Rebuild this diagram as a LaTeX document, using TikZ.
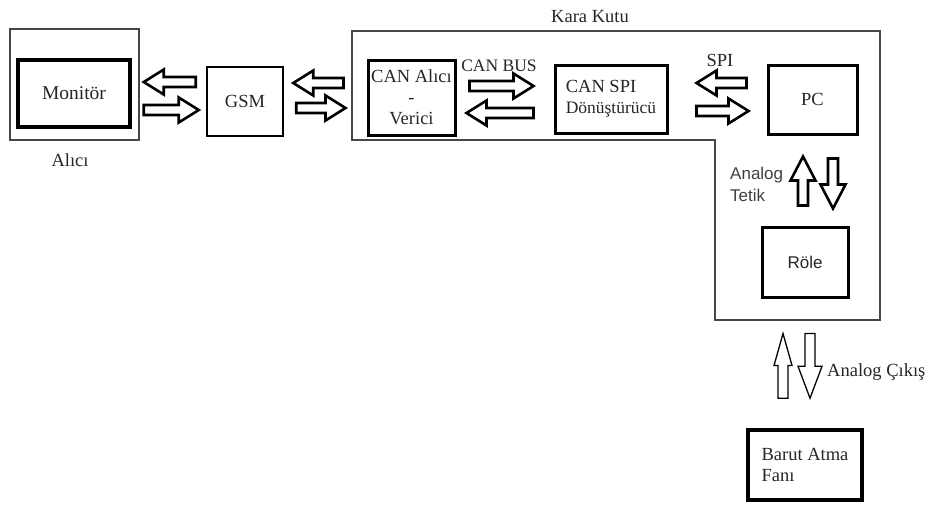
\documentclass[tikz,border=0pt]{standalone}
\usepackage{fontspec}
\setmainfont{Liberation Serif}
\newfontfamily\arialf{Liberation Sans}
\usetikzlibrary{calc}
\tikzset{
  blk sw/.store in=\blksw, blk hw/.store in=\blkhw, blk hl/.store in=\blkhl,
  blk sw=5pt, blk hw=12.5pt, blk hl=20pt,
  blk/.style={draw=black, line width=2.6pt, line join=miter, fill=white,
    to path={let \p1=(\tikztostart), \p2=(\tikztotarget), \p3=($(\p2)!\blkhl!(\p1)$) in
      ($(\p1)!\blksw!90:(\p2)$) -- ($(\p3)!\blksw!-90:(\p1)$) -- ($(\p3)!\blkhw!-90:(\p1)$)
      -- (\p2) -- ($(\p3)!\blkhw!90:(\p1)$) -- ($(\p3)!\blksw!90:(\p1)$)
      -- ($(\p1)!\blksw!-90:(\p2)$) -- cycle}},
  thinblk/.style={blk, line width=1.3pt, blk sw=5pt, blk hw=10pt, blk hl=32pt},
  frame/.style={draw=gray!55!black, line width=1.5pt},
  bx/.style={draw=black, line width=3pt, inner sep=0pt, text=black!85,
    font=\fontsize{18.5}{21}\selectfont},
  txt/.style={inner sep=0pt, text=black!85, font=\fontsize{18.5}{21}\selectfont},
  sans/.style={inner sep=0pt, text=black!75, font=\arialf\fontsize{17}{22}\selectfont},
}
\begin{document}
\begin{tikzpicture}[x=1pt,y=-1pt]
\useasboundingbox[fill=white] (0,0) rectangle (931,504);

% frames
\node[frame, inner sep=0pt, minimum width=129pt, minimum height=111pt] (alicifr) at (74.5,84.5) {};
\draw[frame] (352,31) -- (880,31) -- (880,320) -- (715,320) -- (715,140) -- (352,140) -- cycle;

% boxes
\node[bx, line width=3.5pt, minimum width=112pt, minimum height=67pt, font=\fontsize{19.5}{21}\selectfont] (monitor) at (74,93.5) {Monitör};
\node[bx, line width=2.5pt, minimum width=76pt, minimum height=69pt] (gsm) at (245,101.5) {GSM};
\node[bx, minimum width=87pt, minimum height=75pt, align=center] (canalici) at (411.5,97.5) {CAN Alıcı\\-\\Verici};
\node[bx, minimum width=112pt, minimum height=68pt, align=left] (canspi) at (611,99) {CAN SPI\\{\fontsize{17.5}{19}\selectfont Dönüştürücü}};
\node[bx, minimum width=89pt, minimum height=69pt] (pc) at (812.5,99.5) {PC};
\node[bx, minimum width=86pt, minimum height=70pt, font=\arialf\fontsize{17}{18}\selectfont] (role) at (805,262) {\raisebox{-4pt}{Röle}};
\node[bx, line width=3.5pt, minimum width=114pt, minimum height=70pt, align=left] (barut) at (805,465) {Barut Atma\\Fanı};

% labels
\node[txt] (karalbl) at (590,17) {Kara Kutu};
\node[txt] (alicilbl) at (70,160) {Alıcı};
\node[txt, font=\fontsize{17.5}{21}\selectfont] (canbus) at (499,66) {CAN BUS};
\node[txt] (spi) at (720,60) {SPI};
\node[sans, align=left, anchor=west] (tetik) at (730,184) {Analog\\Tetik};
\node[txt, anchor=west] (cikis) at (827,372) {Analog Çıkış};

% arrow end points
\coordinate (a1s) at ($(gsm.west)+(-10,-19.5)$);
\coordinate (a1e) at ($(alicifr.east)+(4,-2.5)$);
\coordinate (a2s) at ($(alicifr.east)+(4,25.5)$);
\coordinate (a2e) at ($(gsm.west)+(-7,8.5)$);
\coordinate (a3s) at ($(canalici.west)+(-23,-14.5)$);
\coordinate (a3e) at ($(gsm.east)+(9,-18.5)$);
\coordinate (a4s) at ($(gsm.east)+(12,6.5)$);
\coordinate (a4e) at ($(canalici.west)+(-21,10.5)$);
\coordinate (a5s) at ($(canalici.east)+(13,-11.5)$);
\coordinate (a5e) at ($(canspi.west)+(-20,-13)$);
\coordinate (a6s) at ($(canspi.west)+(-20,14)$);
\coordinate (a6e) at ($(canalici.east)+(10,15.5)$);
\coordinate (a7s) at ($(pc.west)+(-20,-16.5)$);
\coordinate (a7e) at ($(canspi.east)+(28,-16)$);
\coordinate (a8s) at ($(canspi.east)+(28,12)$);
\coordinate (a8e) at ($(pc.west)+(-18,11.5)$);
\coordinate (a9s) at ($(role.north)+(-2,-20)$);
\coordinate (a9e) at ($(pc.south)+(-9.5,21)$);
\coordinate (a10s) at ($(pc.south)+(20.5,23)$);
\coordinate (a10e) at ($(role.north)+(28,-17)$);
\coordinate (a11s) at ($(barut.north)+(-22,-30)$);
\coordinate (a11e) at ($(role.south)+(-22,35)$);
\coordinate (a12s) at ($(role.south)+(5,35)$);
\coordinate (a12e) at ($(barut.north)+(5,-30)$);

% block arrows
\draw[blk] (a1s) to (a1e);
\draw[blk] (a2s) to (a2e);
\draw[blk] (a3s) to (a3e);
\draw[blk] (a4s) to (a4e);
\draw[blk] (a5s) to (a5e);
\draw[blk] (a6s) to (a6e);
\draw[blk] (a7s) to (a7e);
\draw[blk] (a8s) to (a8e);
\draw[blk, blk hl=24pt] (a9s) to (a9e);
\draw[blk, blk hl=24pt] (a10s) to (a10e);
\draw[thinblk, blk hw=9pt] (a11s) to (a11e);
\draw[thinblk, blk hw=12pt] (a12s) to (a12e);
\end{tikzpicture}
\end{document}
